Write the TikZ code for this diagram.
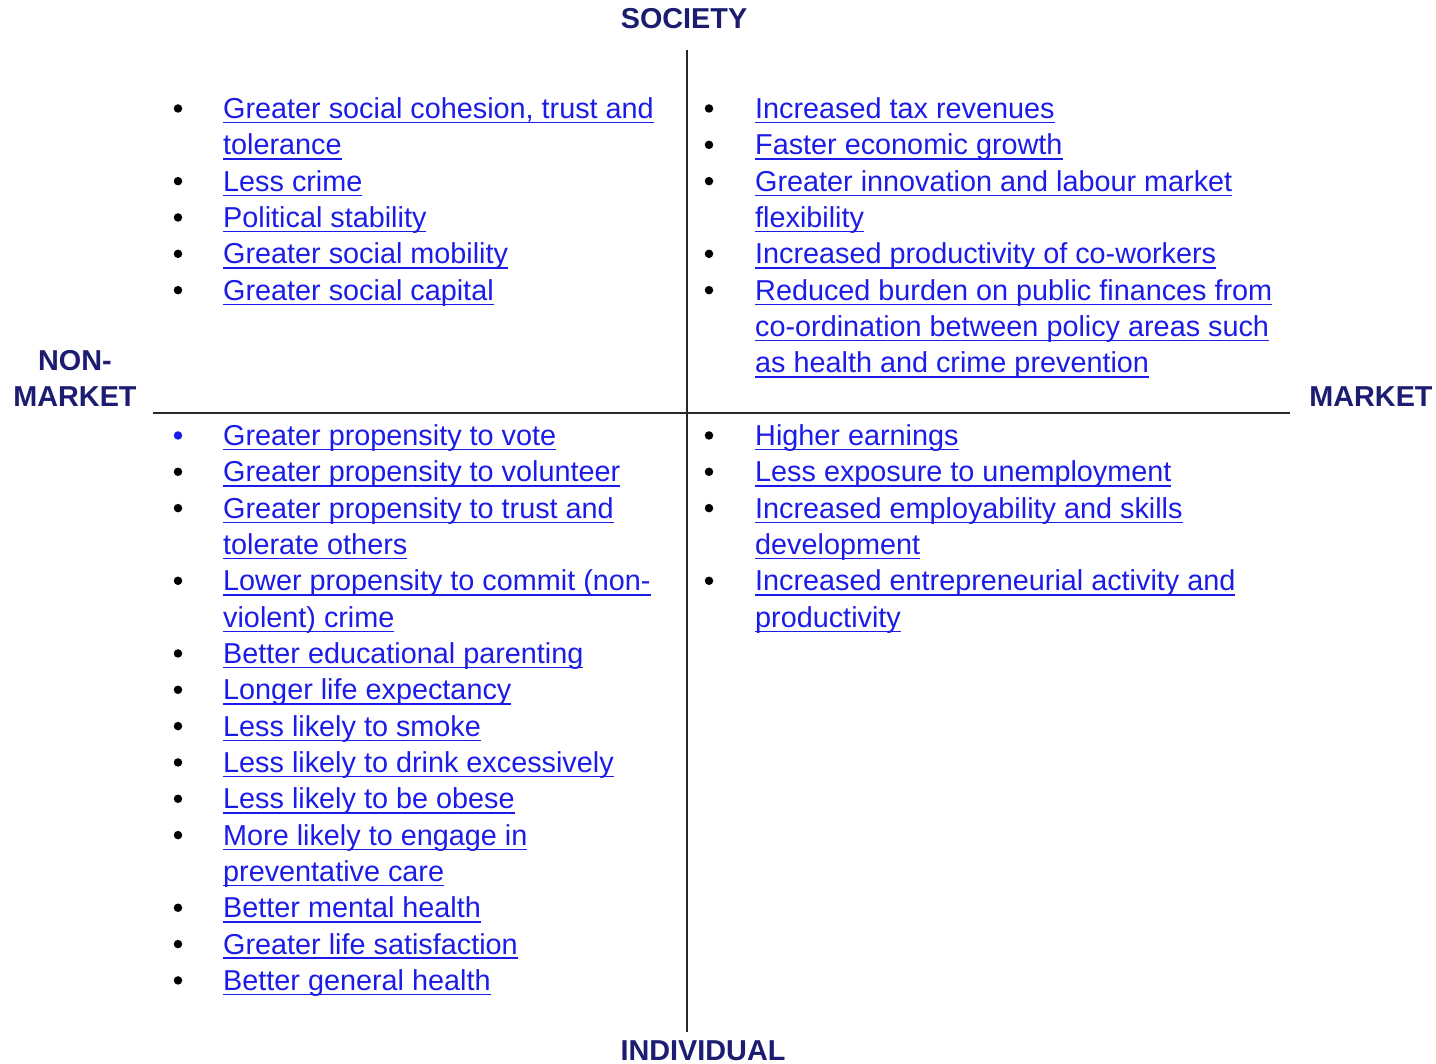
\documentclass[tikz,border=0pt]{standalone}
\usepackage{fontspec}
\setmainfont{Liberation Sans}
\usepackage{xcolor}
\definecolor{linkblue}{RGB}{28,28,232}
\definecolor{headnavy}{RGB}{28,28,112}
\definecolor{axisgray}{RGB}{40,40,40}
\newsavebox{\lnkbox}
\newcommand{\lnk}[1]{\sbox{\lnkbox}{#1}\rlap{\rule[-5pt]{\wd\lnkbox}{1.6pt}}\usebox{\lnkbox}}

\begin{document}
\begin{tikzpicture}[x=1pt, y=-1pt,
    entry/.style={font=\fontsize{28.8}{36}\selectfont, text=linkblue, inner sep=0pt, anchor=base west},
    head/.style={font=\bfseries\fontsize{28.8}{36}\selectfont, text=headnavy, inner sep=0pt, anchor=base},
    dot/.style={circle, fill=black, inner sep=0pt, minimum size=8.5pt}]
    \useasboundingbox (0,0) rectangle (1436,1064);

    % Axes
    \coordinate (top) at (687,50);
    \coordinate (bottom) at (687,1032);
    \coordinate (left) at (153,413);
    \coordinate (right) at (1290,413);
    \draw[axisgray, line width=1.6pt] (top) -- (bottom);
    \draw[axisgray, line width=1.6pt] (left) -- (right);

    % Axis labels
    \node[head] (society) at (684,29) {SOCIETY};
    \node[head] (individual) at (703,1060) {INDIVIDUAL};
    \node[head] (nonm) at (75,371) {NON-};
    \node[head] (nonmarket) at (75,407) {MARKET};
    \node[head] (market) at (1371,407) {MARKET};

    % Society, non-market
    \foreach \k/\txt/\b in {0/Greater social cohesion{,} trust and/1, 1/tolerance/0,
        2/Less crime/1, 3/Political stability/1, 4/Greater social mobility/1,
        5/Greater social capital/1}{
        \node[entry] (lt\k) at (223,{118.5+36.33*\k}) {\lnk{\txt}};
        \ifnum\b>0 \node[dot] (ltb\k) at (178,{108.5+36.33*\k}) {};\fi
    }

    % Society, market
    \foreach \k/\txt/\b in {0/Increased tax revenues/1, 1/Faster economic growth/1,
        2/Greater innovation and labour market/1, 3/flexibility/0,
        4/Increased productivity of co-workers/1,
        5/Reduced burden on public finances from/1,
        6/co-ordination between policy areas such/0,
        7/as health and crime prevention/0}{
        \node[entry] (rt\k) at (755,{118.5+36.33*\k}) {\lnk{\txt}};
        \ifnum\b>0 \node[dot] (rtb\k) at (709,{108.5+36.33*\k}) {};\fi
    }

    % Individual, non-market
    \foreach \k/\txt/\b in {9/Greater propensity to vote/2,
        10/Greater propensity to volunteer/1,
        11/Greater propensity to trust and/1, 12/tolerate others/0,
        13/Lower propensity to commit (non-/1, 14/violent) crime/0,
        15/Better educational parenting/1, 16/Longer life expectancy/1,
        17/Less likely to smoke/1, 18/Less likely to drink excessively/1,
        19/Less likely to be obese/1, 20/More likely to engage in/1,
        21/preventative care/0, 22/Better mental health/1,
        23/Greater life satisfaction/1, 24/Better general health/1}{
        \node[entry] (lb\k) at (223,{118.5+36.33*\k}) {\lnk{\txt}};
        \ifcase\b
        \or \node[dot] (lbb\k) at (178,{108.5+36.33*\k}) {};
        \or \node[dot, fill=linkblue] (lbb\k) at (178,{108.5+36.33*\k}) {};
        \fi
    }

    % Individual, market
    \foreach \k/\txt/\b in {9/Higher earnings/1, 10/Less exposure to unemployment/1,
        11/Increased employability and skills/1, 12/development/0,
        13/Increased entrepreneurial activity and/1, 14/productivity/0}{
        \node[entry] (rb\k) at (755,{118.5+36.33*\k}) {\lnk{\txt}};
        \ifnum\b>0 \node[dot] (rbb\k) at (709,{108.5+36.33*\k}) {};\fi
    }
\end{tikzpicture}
\end{document}
